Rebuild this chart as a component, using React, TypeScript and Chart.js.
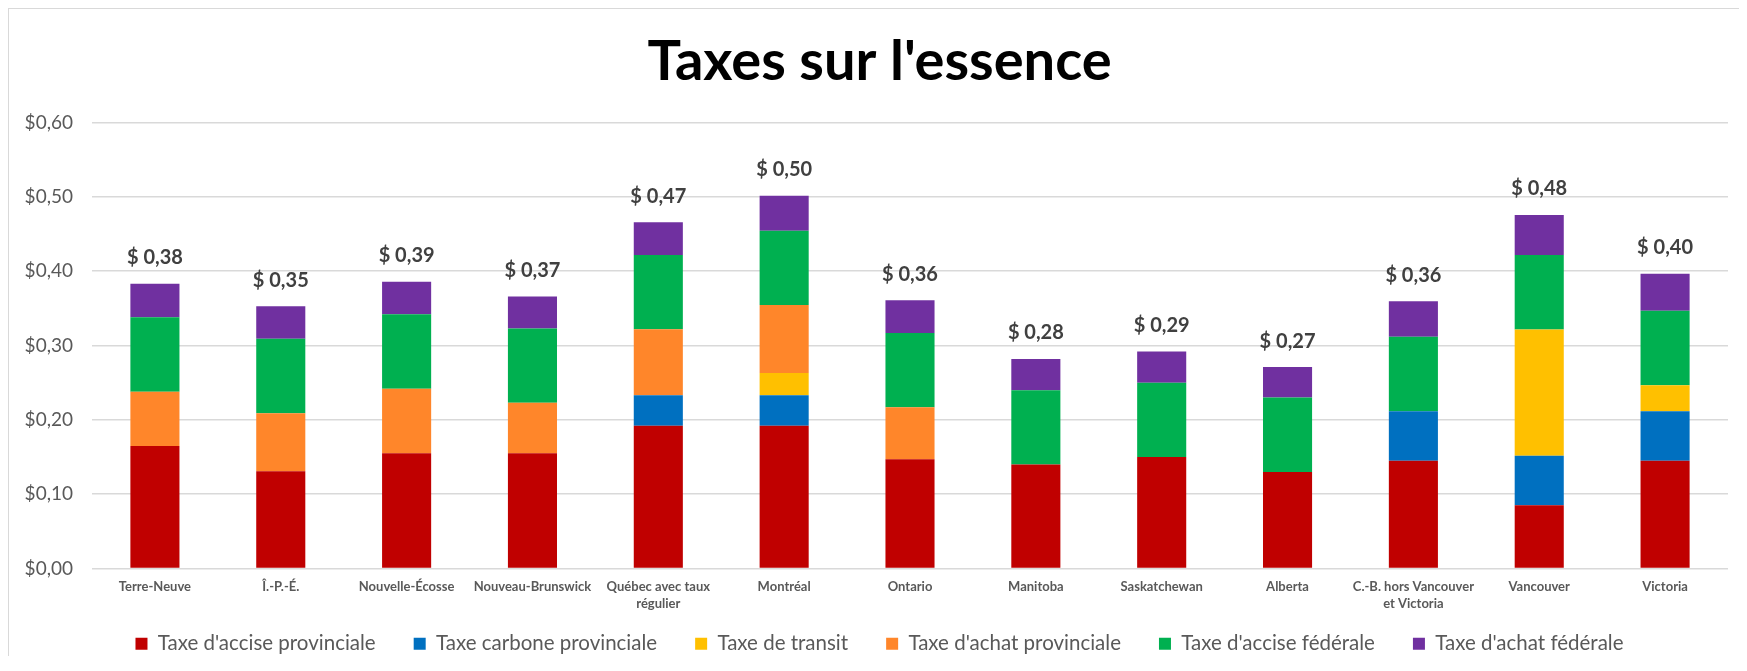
import React, { useEffect, useRef } from "react";
import { Chart, registerables } from "chart.js";

Chart.register(...registerables);

const categories: (string | string[])[] = [
  "Terre-Neuve",
  "Î.-P.-É.",
  "Nouvelle-Écosse",
  "Nouveau-Brunswick",
  ["Québec avec taux", "régulier"],
  "Montréal",
  "Ontario",
  "Manitoba",
  "Saskatchewan",
  "Alberta",
  ["C.-B. hors Vancouver", "et Victoria"],
  "Vancouver",
  "Victoria",
];

const acciseProvinciale = [0.165, 0.131, 0.155, 0.155, 0.192, 0.192, 0.147, 0.14, 0.15, 0.13, 0.145, 0.085, 0.145];
const carboneProvinciale = [null, null, null, null, 0.041, 0.041, null, null, null, null, 0.0667, 0.0667, 0.0667];
const taxeTransit = [null, null, null, null, null, 0.03, null, null, null, null, null, 0.17, 0.035];
const achatProvinciale = [0.073, 0.078, 0.087, 0.068, 0.089, 0.0915, 0.07, null, null, null, null, null, null];
const acciseFederale = [0.1, 0.1, 0.1, 0.1, 0.1, 0.1, 0.1, 0.1, 0.1, 0.1, 0.1, 0.1, 0.1];
const achatFederale = [0.045, 0.044, 0.044, 0.043, 0.044, 0.047, 0.044, 0.042, 0.042, 0.041, 0.048, 0.054, 0.05];

const yTicks = [0, 0.1, 0.2, 0.3, 0.4, 0.5, 0.6];

const FONT = "Lato, 'Open Sans', sans-serif";

const totalLabels = {
  id: "totalLabels",
  afterDatasetsDraw(chart: any) {
    const { ctx, scales } = chart;
    const n = chart.data.labels.length;
    ctx.save();
    ctx.font = `bold 20px ${FONT}`;
    ctx.fillStyle = "#404040";
    ctx.textAlign = "center";
    ctx.textBaseline = "alphabetic";
    for (let i = 0; i < n; i++) {
      let total = 0;
      chart.data.datasets.forEach((ds: any) => {
        const v = ds.data[i];
        if (typeof v === "number") total += v;
      });
      const x = scales.x.getPixelForValue(i);
      const y = scales.y.getPixelForValue(total);
      const txt = "$ " + total.toFixed(2).replace(".", ",");
      ctx.fillText(txt, x, y - 19.5);
    }
    ctx.restore();
  },
};

export default function App() {
  const ref = useRef<HTMLCanvasElement | null>(null);

  useEffect(() => {
    if (!ref.current) return;
    const H = 655;
    const padLeft = 22;
    const plotLeft = 83;
    const plotTop = 113.6;
    const plotBottom = 559.5;
    const legendFont = 20.5;
    const legendPad = 38;
    const legendH = legendFont + legendPad + 10;
    const chart = new Chart(ref.current, {
      type: "bar",
      data: {
        labels: categories as any,
        datasets: [
          { label: "Taxe d'accise provinciale", data: acciseProvinciale, backgroundColor: "#C00000" },
          { label: "Taxe carbone provinciale", data: carboneProvinciale as any, backgroundColor: "#0070C0" },
          { label: "Taxe de transit", data: taxeTransit as any, backgroundColor: "#FFC000" },
          { label: "Taxe d'achat provinciale", data: achatProvinciale as any, backgroundColor: "#FF862A" },
          { label: "Taxe d'accise fédérale", data: acciseFederale, backgroundColor: "#00B050" },
          { label: "Taxe d'achat fédérale", data: achatFederale, backgroundColor: "#7030A0" },
        ],
      },
      options: {
        responsive: false,
        animation: false,
        layout: { padding: { left: padLeft, right: 11, top: 0, bottom: 0 } },
        datasets: {
          bar: { categoryPercentage: 1, barPercentage: 0.39, borderWidth: 0 },
        },
        plugins: {
          title: {
            display: true,
            text: "Taxes sur l'essence",
            color: "#000000",
            font: { family: FONT, size: 56, weight: "bold", lineHeight: 1.2 },
            padding: { top: 19, bottom: plotTop - 19 - 56 * 1.2 },
          },
          legend: {
            position: "bottom",
            labels: {
              boxWidth: 12,
              boxHeight: 12,
              padding: legendPad,
              color: "#595959",
              font: { family: FONT, size: legendFont },
            },
          },
          tooltip: { enabled: false },
        },
        scales: {
          x: {
            stacked: true,
            grid: { display: false, drawTicks: false },
            border: { display: false },
            ticks: {
              color: "#595959",
              font: { family: FONT, size: 13, weight: "bold", lineHeight: 1.33 },
              padding: 9.5,
              maxRotation: 0,
              autoSkip: false,
            },
            afterFit(scale: any) {
              scale.height = H - legendH - plotBottom;
              scale._computeLabelArea = () => null;
            },
          },
          y: {
            stacked: true,
            min: 0,
            max: 0.6,
            afterBuildTicks(scale: any) {
              scale.ticks = yTicks.map((v) => ({ value: v }));
            },
            grid: { color: "#D9D9D9", lineWidth: 1.5, drawTicks: false },
            border: { display: false },
            ticks: {
              color: "#595959",
              font: { family: FONT, size: 19 },
              padding: 19,
              callback: (v: any) => "$" + Number(v).toFixed(2).replace(".", ","),
            },
            afterFit(scale: any) {
              scale.width = plotLeft - padLeft;
              scale._computeLabelArea = () => null;
            },
          },
        },
      },
      plugins: [totalLabels],
    });
    return () => chart.destroy();
  }, []);

  return (
    <div
      style={{
        borderLeft: "1px solid #D9D9D9",
        borderTop: "1px solid #D9D9D9",
        marginBottom: -8,
        background: "#ffffff",
      }}
    >
      <canvas ref={ref} width={1730} height={655} style={{ display: "block", width: 1730, height: 655 }} />
    </div>
  );
}
